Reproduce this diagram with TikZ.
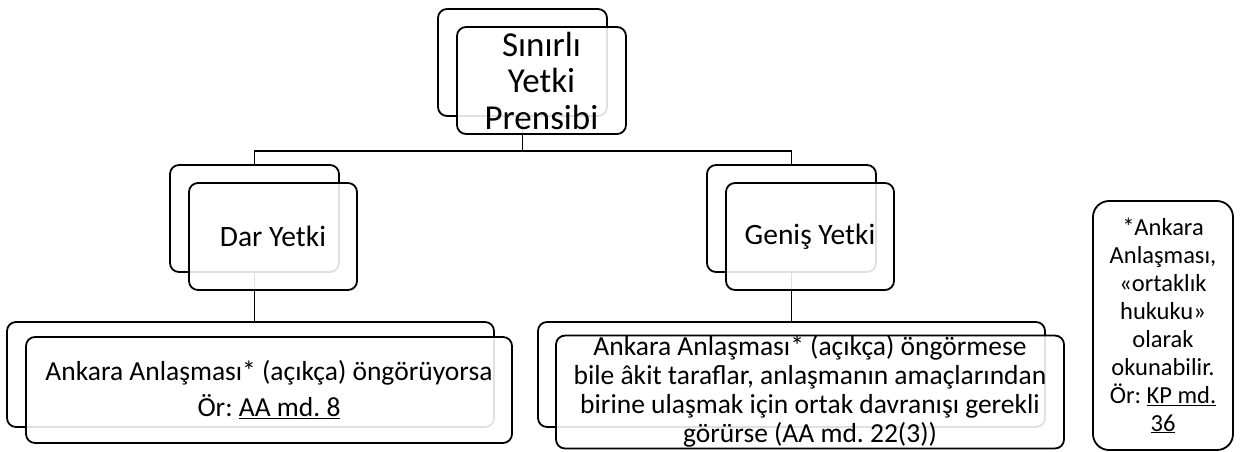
\documentclass[tikz,border=0pt]{standalone}
\usepackage{fontspec}
\setmainfont{Carlito}
\frenchspacing
\begin{document}
\begin{tikzpicture}[x=1pt,y=-1pt,
    back/.style={draw, line width=1.8pt, rounded corners=9pt, fill=white, inner sep=0pt},
    front/.style={draw, line width=1.8pt, rounded corners=9pt, fill=white, fill opacity=0.88, text opacity=1, inner sep=0pt, align=center},
    link/.style={line width=1.8pt}]

    % Fix the page to the size of the reference
    \useasboundingbox (0,0) rectangle (1240,451);

    % Back boxes of the hierarchy (centres at coordinates)
    \node[back, minimum width=169pt, minimum height=107pt] (topB) at (522.5,62.5) {};
    \node[back, minimum width=169pt, minimum height=107pt] (darB) at (254.5,218.5) {};
    \node[back, minimum width=169pt, minimum height=107pt] (genB) at (791.5,218.5) {};
    \node[back, minimum width=487pt, minimum height=105pt] (darleafB) at (250.5,374.5) {};
    \node[back, minimum width=507pt, minimum height=105pt] (genleafB) at (791.5,374.5) {};

    % Connectors from parent to children
    \draw[link] (topB.south) -- ++(0,34) coordinate (split);
    \draw[link] (darB.north) |- (split) -| (genB.north);
    \draw[link] (darB.south) -- (darB.south |- darleafB.north);
    \draw[link] (genB.south) -- (genB.south |- genleafB.north);

    % Front boxes carrying the texts
    \node[front, minimum width=169pt, minimum height=107pt,
          font=\fontsize{35}{36.5}\selectfont] (top) at (541.5,80.5)
          {Sınırlı\\Yetki\\Prensibi};
    \node[front, minimum width=168pt, minimum height=107pt,
          font=\fontsize{29.5}{36}\selectfont] (dar) at (273,236.5) {Dar Yetki};
    \node[front, minimum width=168pt, minimum height=107pt,
          font=\fontsize{29.5}{36}\selectfont] (gen) at (810,236.5) {Geniş Yetki};
    \node[front, minimum width=486pt, minimum height=106pt,
          font=\fontsize{27.5}{36}\selectfont] (darleaf) at (269,390)
          {Ankara Anlaşması* (açıkça) öngörüyorsa\\Ör: \underline{AA md. 8}};
    \node[front, minimum width=508pt, minimum height=106pt,
          font=\fontsize{27.5}{29}\selectfont] (genleaf) at (810,392)
          {Ankara Anlaşması* (açıkça) öngörmese\\bile âkit taraflar, anlaşmanın amaçlarından\\birine ulaşmak için ortak davranışı gerekli\\görürse (\underline{AA md. 22(3)})};

    % Side note
    \node[draw, line width=1.8pt, rounded corners=16pt, inner sep=0pt, align=center,
          minimum width=140pt, minimum height=249pt,
          font=\fontsize{24.5}{28}\selectfont] (note) at (1163,325.5)
          {*Ankara\\Anlaşması,\\«ortaklık\\hukuku»\\olarak\\okunabilir.\\Ör: \underline{KP md.}\\\underline{36}};

\end{tikzpicture}
\end{document}
